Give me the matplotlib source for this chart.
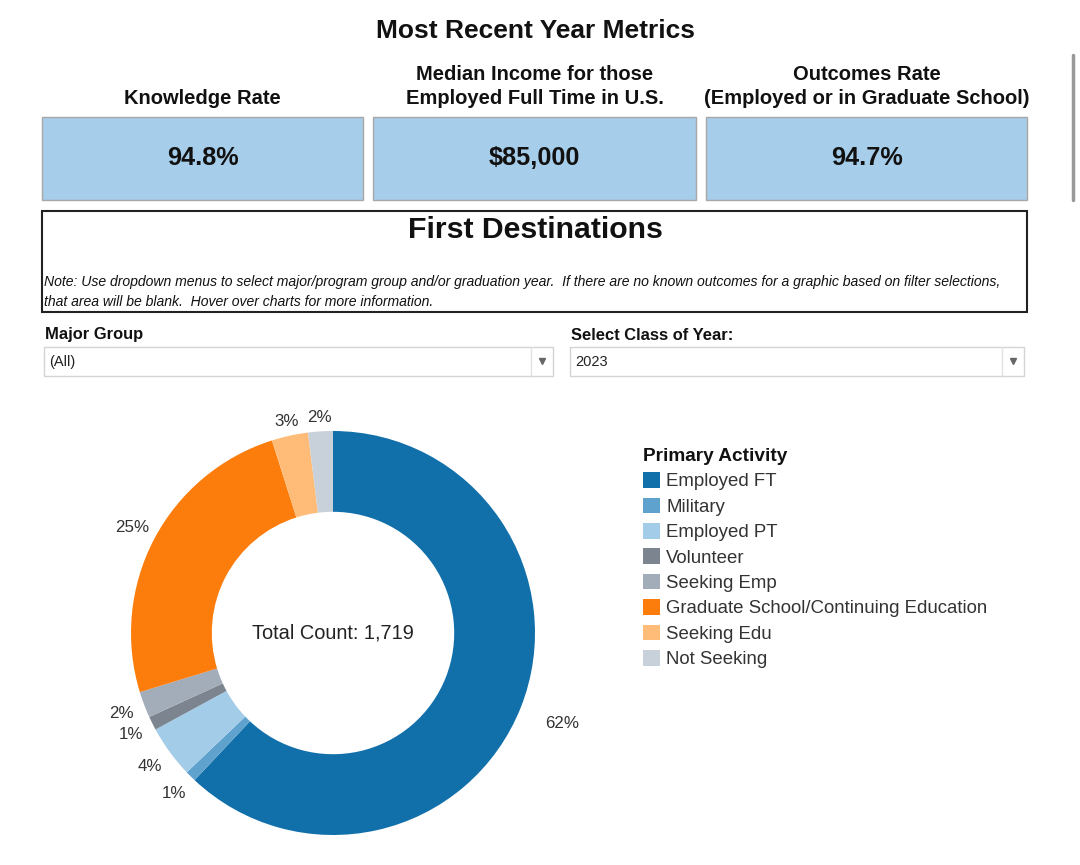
import matplotlib
matplotlib.use("Agg")
import matplotlib.pyplot as plt
from matplotlib.patches import Rectangle

plt.rcParams["font.family"] = ["Liberation Sans", "DejaVu Sans"]

# datos
actividades = ["Employed FT", "Military", "Employed PT", "Volunteer", "Seeking Emp",
               "Graduate School/Continuing Education", "Seeking Edu", "Not Seeking"]
conteos = [1066, 15, 72, 19, 36, 427, 50, 34]
colores = ["#1170aa", "#5fa2ce", "#a3cce9", "#7b848f", "#a3acb9",
           "#fc7d0b", "#ffbc79", "#c8d0d9"]

metricas_titulo = ["Knowledge Rate", "Median Income for those\nEmployed Full Time in U.S.",
                   "Outcomes Rate\n(Employed or in Graduate School)"]
metricas_valor = ["94.8%", "$85,000", "94.7%"]

nota = ["Note: Use dropdown menus to select major/program group and/or graduation year.  "
        "If there are no known outcomes for a graphic based on filter selections,",
        "that area will be blank.  Hover over charts for more information."]

filtros = ["Major Group", "Select Class of Year:"]
filtros_valor = ["(All)", "2023"]

W, H = 1080, 865
fig = plt.figure(figsize=(W / 100, H / 100), dpi=100)
ax = fig.add_axes([0, 0, 1, 1])
ax.set_xlim(0, W)
ax.set_ylim(H, 0)
ax.axis("off")

negro = "#111111"

ax.text(535, 31, "Most Recent Year Metrics", ha="center", va="center",
        fontsize=19, fontweight="bold", color=negro)

# tarjetas de metricas
cajas = [(42, 363), (373, 696), (706, 1027)]
for (x0, x1), titulo, valor in zip(cajas, metricas_titulo, metricas_valor):
    ax.add_patch(Rectangle((x0, 117), x1 - x0, 83, facecolor="#a6cde9",
                           edgecolor="#a8a8a8", lw=1))
    lineas = titulo.split("\n")
    for i, linea in enumerate(lineas):
        ax.text((x0 + x1) / 2, 99 - 24 * (len(lineas) - 1 - i), linea, ha="center",
                va="center", fontsize=14.5, fontweight="bold", color=negro)
    ax.text((x0 + x1) / 2, 158, valor, ha="center", va="center", fontsize=18.2,
            fontweight="bold", color=negro)

# caja First Destinations
ax.add_patch(Rectangle((42, 211), 985, 101, facecolor="white", edgecolor="#222222", lw=1.5))
ax.text(535, 230, "First Destinations", ha="center", va="center", fontsize=21.8,
        fontweight="bold", color=negro)
for i, linea in enumerate(nota):
    ax.text(44, 282 + 20 * i, linea, ha="left", va="center", fontsize=10.05,
            style="italic", color=negro)

# menus desplegables
desplegables = [(44, 553), (570, 1024)]
for (x0, x1), etiqueta, valor in zip(desplegables, filtros, filtros_valor):
    ax.text(x0 + 1, 335, etiqueta, ha="left", va="center", fontsize=11.9,
            fontweight="bold", color=negro)
    ax.add_patch(Rectangle((x0, 347), x1 - x0, 29, facecolor="white",
                           edgecolor="#d4d4d4", lw=1))
    ax.plot([x1 - 22, x1 - 22], [347, 376], color="#e2e2e2", lw=1)
    ax.plot(x1 - 11, 361, marker="v", markersize=4.5, color="#666666")
    ax.text(x0 + 5, 362, valor, ha="left", va="center", fontsize=10.5, color="#222222")

# barra de desplazamiento
ax.plot([1073, 1073], [55, 200], color="#999999", lw=2.5, solid_capstyle="round")

# dona
cx, cy, r = 333, 633, 202
ax2 = fig.add_axes([(cx - r) / W, (H - cy - r) / H, 2 * r / W, 2 * r / H])
cunas, textos, pcts = ax2.pie(conteos, colors=colores, startangle=90, counterclock=False,
                              radius=1, wedgeprops=dict(width=0.4, linewidth=0),
                              autopct="%1.0f%%", pctdistance=1.12,
                              textprops=dict(fontsize=12.2, color="#333333"))
# ajuste de distancia de algunas etiquetas, como en el original
for i, k in [(0, 1.22 / 1.12), (6, 1.07 / 1.12), (7, 1.07 / 1.12)]:
    px, py = pcts[i].get_position()
    pcts[i].set_position((px * k, py * k))
ax2.set_xlim(-1, 1)
ax2.set_ylim(-1, 1)
ax2.set_aspect("equal")
ax2.text(0, 0, f"Total Count: {sum(conteos):,}", ha="center", va="center",
         fontsize=14.4, color="#222222")

leg = fig.legend(cunas, actividades, loc="upper left",
                 bbox_to_anchor=(643 / W, 1 - 448 / H), frameon=False,
                 title="Primary Activity", alignment="left",
                 fontsize=13.4, title_fontproperties=dict(weight="bold", size=13.7),
                 handlelength=0.9, handleheight=0.9, handletextpad=0.35,
                 labelspacing=0.39, borderaxespad=0, borderpad=0)
for t in leg.get_texts():
    t.set_color("#333333")
leg.get_title().set_color(negro)

fig.savefig("out.png", dpi=100)
